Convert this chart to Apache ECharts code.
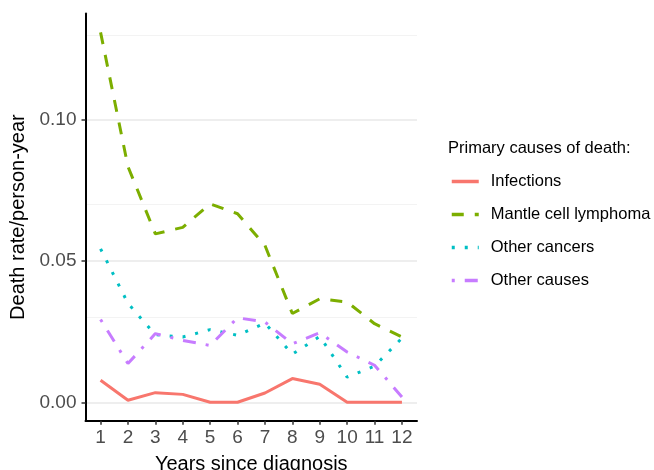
<!DOCTYPE html>
<html>
<head>
<meta charset="utf-8">
<script src="https://cdn.jsdelivr.net/npm/echarts@6/dist/echarts.min.js"></script>
<style>
  html, body { margin: 0; padding: 0; background: #fff; }
  #chart { width: 654px; height: 470px; }
</style>
</head>
<body>
<div id="chart"></div>
<script>
// years since diagnosis
var years = [1, 2, 3, 4, 5, 6, 7, 8, 9, 10, 11, 12];

// death rate per person-year
var infections = [0.0078, 0.0007, 0.0034, 0.0028, 0, 0, 0.0033, 0.0084, 0.0064, 0, 0, 0];
var mantleCell = [0.1309, 0.0834, 0.0596, 0.0619, 0.0702, 0.0667, 0.0555, 0.0314, 0.0366, 0.0355, 0.0278, 0.0231];
var otherCancers = [0.0543, 0.0350, 0.0239, 0.0231, 0.0257, 0.0237, 0.0280, 0.0170, 0.0233, 0.0089, 0.0128, 0.0227];
var otherCauses = [0.0293, 0.0137, 0.0243, 0.0219, 0.0201, 0.0299, 0.0284, 0.0207, 0.0246, 0.0178, 0.0131, 0.0019];

var yTicks = [0, 0.05, 0.1];
var majorGrid = [0, 0.05, 0.1];
var minorGrid = [0.025, 0.075, 0.125];

var seriesNames = ["Infections", "Mantle cell lymphoma", "Other cancers", "Other causes"];
var colors = ["#F8766D", "#7CAE00", "#00BFC4", "#C77CFF"];
var dashes = ["solid", [12, 11], [3, 10], [3, 10, 13, 10]];
var values = [infections, mantleCell, otherCancers, otherCauses];

function pairs(arr) {
  return years.map(function (y, i) { return [y, arr[i]]; });
}

var chart = echarts.init(document.getElementById("chart"));

var series = [
  {
    // background grid lines, kept behind the data lines
    name: "grid",
    type: "line",
    data: [],
    z: 0,
    silent: true,
    markLine: {
      z: 0,
      silent: true,
      symbol: "none",
      label: { show: false },
      emphasis: { disabled: true },
      data: majorGrid.map(function (v) {
        return { yAxis: v, lineStyle: { color: "#e8e8e8", width: 1.5, type: "solid" } };
      }).concat(minorGrid.map(function (v) {
        return { yAxis: v, lineStyle: { color: "#f3f3f3", width: 1, type: "solid" } };
      }))
    }
  }
];

seriesNames.forEach(function (name, i) {
  series.push({
    name: name,
    type: "line",
    data: pairs(values[i]),
    showSymbol: false,
    symbol: "none",
    z: 3,
    color: colors[i],
    lineStyle: { color: colors[i], width: 3, type: dashes[i], cap: "butt" },
    emphasis: { disabled: true }
  });
});

var option = {
  animation: false,
  backgroundColor: "#ffffff",
  textStyle: { fontFamily: "Liberation Sans, Arial, sans-serif" },
  title: {
    text: "Primary causes of death:",
    left: 443,
    top: 135,
    textStyle: { fontSize: 16.5, fontWeight: "normal", color: "#000" }
  },
  legend: {
    data: seriesNames,
    orient: "vertical",
    left: 450,
    top: 173,
    padding: 0,
    itemWidth: 27,
    itemHeight: 14,
    itemGap: 16,
    itemStyle: { opacity: 0 },
    lineStyle: { width: 3.5 },
    textStyle: { fontSize: 16.5, color: "#000", padding: [0, 0, 0, 7] }
  },
  grid: {
    left: 85.5,
    right: 237,
    top: 13.4,
    bottom: 49.2,
    containLabel: false,
    outerBoundsMode: "none"
  },
  xAxis: {
    type: "value",
    min: 0.45,
    max: 12.55,
    name: "Years since diagnosis",
    nameLocation: "middle",
    nameGap: 34,
    nameTextStyle: { fontSize: 20, color: "#000" },
    axisLine: { show: true, onZero: false, lineStyle: { color: "#000", width: 2 } },
    axisTick: { show: true, length: 4, customValues: years, lineStyle: { color: "#333", width: 1.5 } },
    axisLabel: { customValues: years, fontSize: 19, color: "#4d4d4d", margin: 7 },
    splitLine: { show: false }
  },
  yAxis: {
    type: "value",
    min: -0.00655,
    max: 0.1376,
    name: "Death rate/person-year",
    nameLocation: "middle",
    nameGap: 56,
    nameTextStyle: { fontSize: 20, color: "#000" },
    axisLine: { show: true, onZero: false, lineStyle: { color: "#000", width: 2 } },
    axisTick: { show: true, length: 4, customValues: yTicks, lineStyle: { color: "#333", width: 1.5 } },
    axisLabel: {
      customValues: yTicks,
      fontSize: 19,
      color: "#4d4d4d",
      margin: 9,
      formatter: function (v) { return v.toFixed(2); }
    },
    splitLine: { show: false }
  },
  series: series
};

chart.setOption(option);
</script>
</body>
</html>
